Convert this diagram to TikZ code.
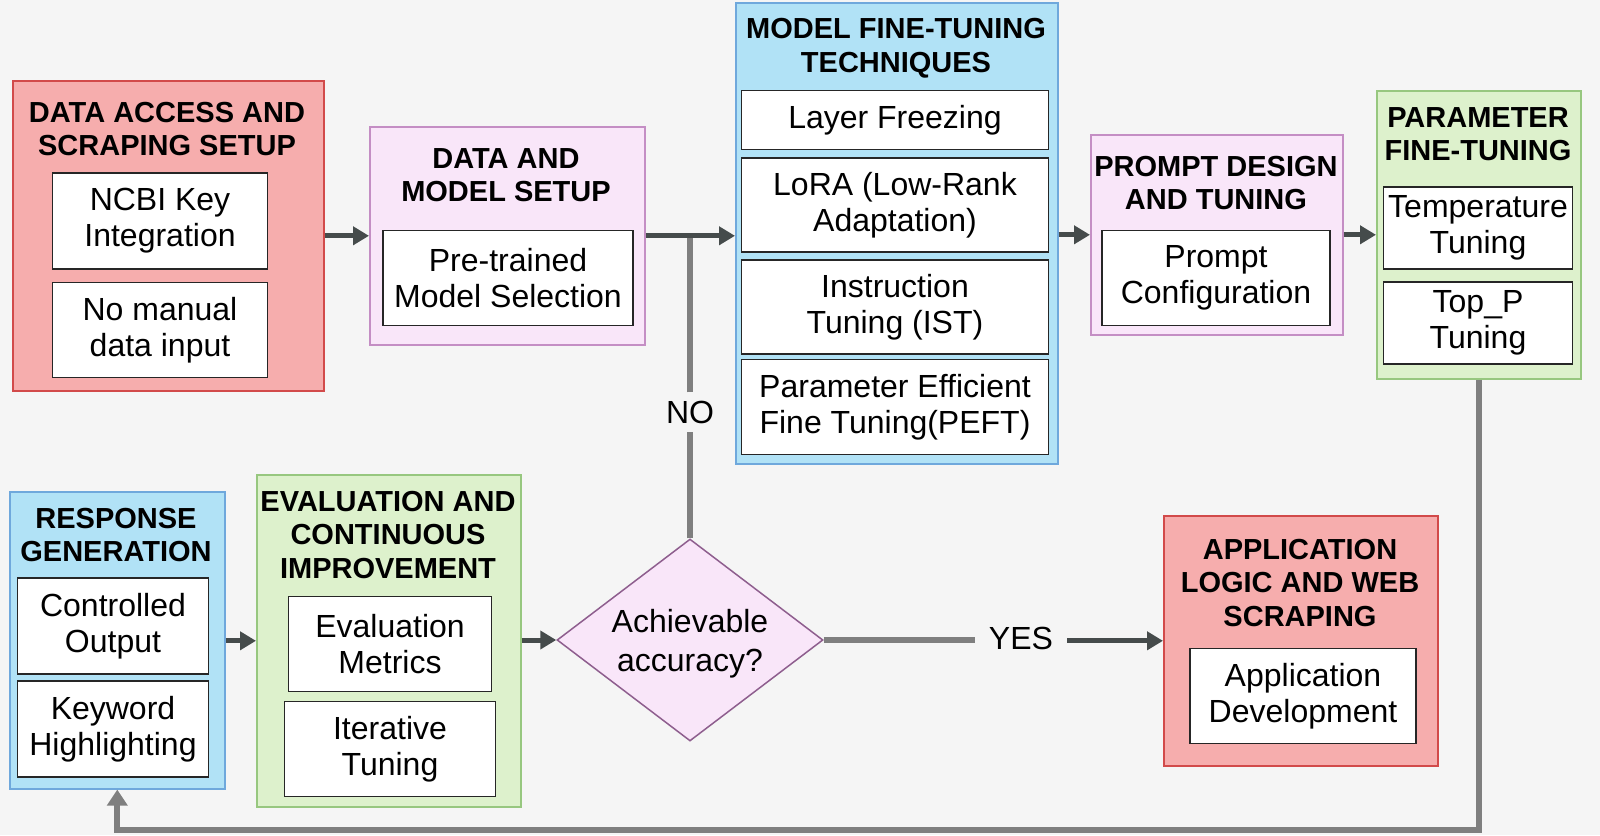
\documentclass[tikz,border=0pt]{standalone}
\usepackage{fontspec}
\setmainfont{Liberation Sans}
\usetikzlibrary{arrows.meta,shapes.geometric,calc}
\definecolor{bg}{HTML}{F5F5F5}
\definecolor{redfill}{HTML}{F6ADAD}
\definecolor{redline}{HTML}{D24A4A}
\definecolor{purfill}{HTML}{F9E6F9}
\definecolor{purline}{HTML}{C48EC4}
\definecolor{decline}{HTML}{8E5E8E}
\definecolor{bluefill}{HTML}{B1E2F6}
\definecolor{blueline}{HTML}{6FA8DC}
\definecolor{grnfill}{HTML}{DDF1CC}
\definecolor{grnline}{HTML}{97C77F}
\definecolor{arrowdk}{HTML}{454B4B}
\definecolor{linegrey}{HTML}{7F7F7F}
\tikzset{
  body/.style={font=\fontsize{32}{36}\selectfont, align=center},
  ttl/.style={font=\fontsize{29}{33.5}\selectfont\bfseries, align=center, inner sep=0pt},
  innerbox/.style={draw=black!85, fill=white, line width=1.2pt, body, inner sep=0pt},
  grp/.style={line width=1.6pt, inner sep=0pt, anchor=north west},
  darr/.style={draw=arrowdk, line width=5pt, -{Triangle[length=16pt,width=18pt]}},
  gline/.style={draw=linegrey, line width=6pt},
}
\begin{document}
\begin{tikzpicture}[x=1pt,y=-1pt]
\fill[bg] (0,0) rectangle (1600,835);
\useasboundingbox (0,0) rectangle (1600,835);

% Data access and scraping setup
\node[grp, fill=redfill, draw=redline, minimum width=311pt, minimum height=310pt] (dacc) at (12,80) {};
\node[ttl] (daccT) at (167,129) {DATA ACCESS AND\\SCRAPING SETUP};
\node[innerbox, minimum width=215pt, minimum height=96pt] (ncbi) at (160,221) {NCBI Key\\Integration};
\node[innerbox, minimum width=215pt, minimum height=95pt] (nomi) at (160,330) {No manual\\data input};

% Data and model setup
\node[grp, fill=purfill, draw=purline, minimum width=275pt, minimum height=218pt] (dms) at (369,126) {};
\node[ttl] (dmsT) at (506,175) {DATA AND\\MODEL SETUP};
\node[innerbox, minimum width=250pt, minimum height=95pt] (ptm) at (508,278) {Pre-trained\\Model Selection};

% Model fine-tuning techniques
\node[grp, fill=bluefill, draw=blueline, minimum width=322pt, minimum height=461pt] (mft) at (735,2) {};
\node[ttl] (mftT) at (896,48) {MODEL FINE-TUNING\\TECHNIQUES};
\node[innerbox, minimum width=307pt, minimum height=59pt] (lf) at (895,120) {Layer Freezing};
\node[innerbox, minimum width=307pt, minimum height=94pt] (lora) at (895,205) {LoRA (Low-Rank\\Adaptation)};
\node[innerbox, minimum width=307pt, minimum height=94pt] (ist) at (895,307) {Instruction\\Tuning (IST)};
\node[innerbox, minimum width=307pt, minimum height=95pt] (peft) at (895,407) {Parameter Efficient\\Fine Tuning(PEFT)};

% Prompt design and tuning
\node[grp, fill=purfill, draw=purline, minimum width=252pt, minimum height=200pt] (pdt) at (1090,134) {};
\node[ttl] (pdtT) at (1216,183) {PROMPT DESIGN\\AND TUNING};
\node[innerbox, minimum width=228pt, minimum height=95pt] (pc) at (1216,278) {Prompt\\Configuration};

% Parameter fine-tuning
\node[grp, fill=grnfill, draw=grnline, minimum width=204pt, minimum height=288pt] (pft) at (1376,90) {};
\node[ttl] (pftT) at (1478,134) {PARAMETER\\FINE-TUNING};
\node[innerbox, minimum width=189pt, minimum height=82pt] (temp) at (1478,228) {Temperature\\Tuning};
\node[innerbox, minimum width=189pt, minimum height=82pt] (topp) at (1478,323) {Top\_P\\Tuning};

% Response generation
\node[grp, fill=bluefill, draw=blueline, minimum width=215pt, minimum height=297pt] (rg) at (9,491) {};
\node[ttl] (rgT) at (116,535) {RESPONSE\\GENERATION};
\node[innerbox, minimum width=191pt, minimum height=96pt] (co) at (113,626) {Controlled\\Output};
\node[innerbox, minimum width=191pt, minimum height=96pt] (kh) at (113,729) {Keyword\\Highlighting};

% Evaluation and continuous improvement
\node[grp, fill=grnfill, draw=grnline, minimum width=264pt, minimum height=332pt] (eci) at (256,474) {};
\node[ttl] (eciT) at (388,535) {EVALUATION AND\\CONTINUOUS\\IMPROVEMENT};
\node[innerbox, minimum width=203pt, minimum height=95pt] (em) at (390,644) {Evaluation\\Metrics};
\node[innerbox, minimum width=211pt, minimum height=95pt] (itt) at (390,749) {Iterative\\Tuning};

% Decision
\node[diamond, draw=decline, fill=purfill, line width=1.5pt, inner sep=0pt, minimum width=266pt, minimum height=202pt] (dec) at (690,640) {};
\node[body, font=\fontsize{32}{39}\selectfont] (decT) at (690,644) {Achievable\\accuracy?};

% Application logic and web scraping
\node[grp, fill=redfill, draw=redline, minimum width=274pt, minimum height=250pt] (alws) at (1163,515) {};
\node[ttl] (alwsT) at (1300,583) {APPLICATION\\LOGIC AND WEB\\SCRAPING};
\node[innerbox, minimum width=226pt, minimum height=95pt] (ad) at (1303,696) {Application\\Development};

% Labels
\node[body, inner sep=8pt] (no) at (690,412) {NO};
\node[body, inner xsep=14pt] (yes) at (1021,638) {YES};

% Connectors
\coordinate (j) at (690,235);
\coordinate (fb) at (1478,830);
\draw[gline] (dec.north) -- (no.south);
\draw[gline] (no.north) -- (j);
\draw[darr] (dacc.east) -- (dacc.east -| dms.west);
\draw[darr] (dms.east) -- (dms.east -| mft.west);
\draw[darr] (mft.east |- pdt.west) -- (pdt.west);
\draw[darr] (pdt.east) -- (pdt.east -| pft.west);
\draw[darr] (rg.east |- eci.west) -- (eci.west);
\draw[darr] (eci.east |- dec.west) -- (dec.west);
\draw[gline] (dec.east) -- (dec.east -| yes.west);
\draw[darr] (yes.east |- alws.west) -- (alws.west);
\draw[gline, -{Triangle[length=16pt,width=20pt]}] (pft.south) -- (pft.south |- fb) -| (rg.south);
\end{tikzpicture}
\end{document}
